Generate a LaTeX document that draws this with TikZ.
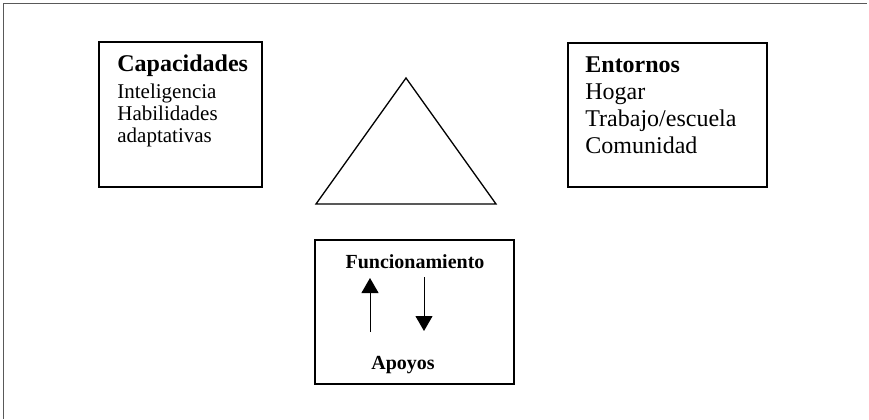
\documentclass[tikz,border=0pt]{standalone}
\usepackage{fontspec}
\setmainfont{Liberation Serif}
\usetikzlibrary{arrows.meta,positioning,calc}
\tikzset{
    caja/.style={
        rectangle,
        draw=black,
        line width=0.65pt,
        inner sep=0pt,
    },
    lista/.style={
        align=left,
        inner sep=0pt,
        anchor=base west,
    },
    flecha/.style={
        draw,
        line width=0.5pt,
        -{Triangle[width=8.5pt,length=7.5pt]},
    },
    marco/.style={
        line width=0.9pt,
        draw=black!65,
    },
  }

\begin{document}
\begin{tikzpicture}[x=0.5pt,y=-0.5pt]
              \useasboundingbox (0,0) rectangle (869,419);
              \draw [marco] (3.5,419) -- (3.5,3.5) -- (867,3.5);

              \node [caja, minimum width=81.5pt, minimum height=72.5pt] (cap) at (180.5,114.5) {};
              \node [caja, minimum width=99.5pt, minimum height=72pt] (ent) at (667.5,115) {};
              \node [caja, minimum width=99.5pt, minimum height=72pt] (fun) at (414.5,312) {};

              % base = baseline of the last line
              \node [lista, font=\fontsize{10.5}{11}\selectfont] (captxt) at (117,142)
                  {{\fontsize{12}{12}\bfseries Capacidades}\\[2.5pt]Inteligencia\\Habilidades\\adaptativas};
              \node [lista, font=\fontsize{12}{13.5}\selectfont] (enttxt) at (585,153)
                  {\textbf{Entornos}\\Hogar\\Trabajo/escuela\\Comunidad};

              \coordinate (ta) at (406,78);
              \coordinate (tb) at (316,204);
              \coordinate (tc) at (496,204);
              \draw [line width=0.65pt] (ta) -- (tb) -- (tc) -- cycle;

              \node [font=\fontsize{10}{10}\bfseries\selectfont, anchor=base, inner sep=0pt] (func) at (415,268) {Funcionamiento};
              \node [font=\fontsize{10}{10}\bfseries\selectfont, anchor=base, inner sep=0pt] (apo) at (403,369) {Apoyos};

              \coordinate (sube1) at (370,332);
              \coordinate (sube2) at (370,278);
              \coordinate (baja1) at (424,277);
              \coordinate (baja2) at (424,331);
              \draw [flecha] (sube1) -- (sube2);
              \draw [flecha] (baja1) -- (baja2);
            \end{tikzpicture}
\end{document}
